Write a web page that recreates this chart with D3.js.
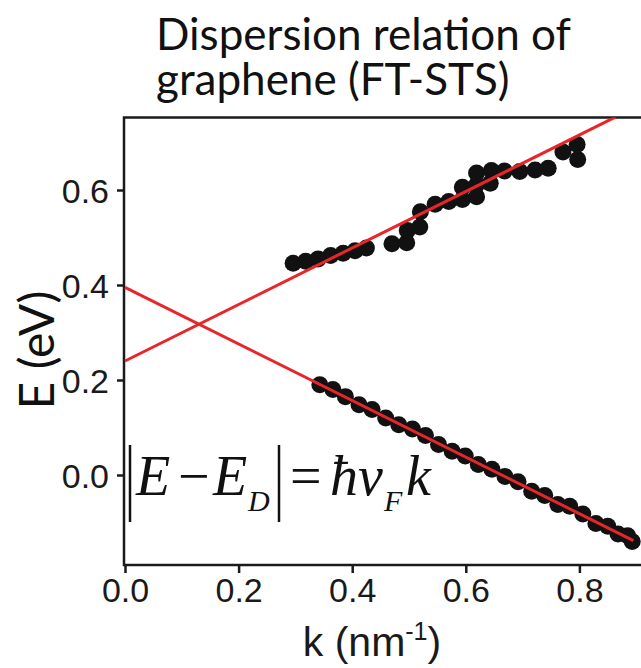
<!DOCTYPE html>
<html>
<head>
<meta charset="utf-8">
<script src="https://cdn.jsdelivr.net/npm/d3@7"></script>
<style>
  body { margin: 0; background: #fff; }
</style>
</head>
<body>
<div id="chart"></div>
<script>
// measured points, upper (conduction) branch
const upperK = [0.296, 0.318, 0.340, 0.362, 0.384, 0.405, 0.425,
                0.470, 0.496, 0.497, 0.519, 0.520, 0.546, 0.570, 0.594, 0.594,
                0.619, 0.619, 0.619, 0.643, 0.645, 0.668, 0.695, 0.722, 0.745,
                0.771, 0.796, 0.797];
const upperE = [0.446, 0.450, 0.455, 0.462, 0.467, 0.472, 0.478,
                0.487, 0.489, 0.515, 0.522, 0.554, 0.570, 0.576, 0.580, 0.606,
                0.586, 0.611, 0.636, 0.614, 0.641, 0.640, 0.639, 0.642, 0.646,
                0.680, 0.696, 0.664];

// measured points, lower (valence) branch
const lowerK = [0.343, 0.366, 0.388, 0.412, 0.435, 0.459, 0.482, 0.506, 0.529,
                0.552, 0.576, 0.599, 0.622, 0.646, 0.669, 0.692, 0.716, 0.739,
                0.762, 0.783, 0.806, 0.829, 0.850, 0.868, 0.885, 0.893];
const lowerE = [0.190, 0.180, 0.165, 0.148, 0.138, 0.120, 0.106, 0.097, 0.083,
                0.064, 0.050, 0.040, 0.022, 0.012, -0.003, -0.014, -0.034, -0.043,
                -0.062, -0.066, -0.082, -0.102, -0.108, -0.124, -0.128, -0.140];

// linear fits (end points)
const fitUpperK = [0, 0.864];
const fitUpperE = [0.240, 0.754];
const fitLowerK = [0, 0.895];
const fitLowerE = [0.395, -0.138];

const xTicks = [0, 0.2, 0.4, 0.6, 0.8];
const yTicks = [0, 0.2, 0.4, 0.6];

// chart size
const W = 641, H = 668;
const plot = {left: 124, top: 117.5, right: 660, bottom: 565};

const svg = d3.select("#chart")
    .append("svg")
    .attr("width", W)
    .attr("height", H)
    .style("font-family", "'Liberation Sans', Arial, sans-serif");

const xScale = d3.scaleLinear().domain([0, 0.9]).range([125, 636.2]);
const yScale = d3.scaleLinear().domain([0, 0.6]).range([475, 190]);

// title, two lines left aligned
const title = svg.append("text")
    .style("font-family", "Lato, 'Open Sans', sans-serif")
    .style("font-size", "44px")
    .attr("fill", "#111");
title.append("tspan").attr("x", 156).attr("y", 50).text("Dispersion relation of");
title.append("tspan").attr("x", 156).attr("y", 95).text("graphene (FT-STS)");

svg.append("defs").append("clipPath")
    .attr("id", "plotClip")
    .append("rect")
    .attr("x", plot.left).attr("y", plot.top)
    .attr("width", plot.right - plot.left)
    .attr("height", plot.bottom - plot.top);

// frame
svg.append("rect")
    .attr("x", plot.left).attr("y", plot.top)
    .attr("width", plot.right - plot.left)
    .attr("height", plot.bottom - plot.top)
    .attr("fill", "none")
    .attr("stroke", "#1a1a1a")
    .attr("stroke-width", 2.5);

// axes
const xAxis = svg.append("g")
    .attr("transform", `translate(0, ${plot.bottom})`)
    .call(d3.axisBottom(xScale).tickValues(xTicks).tickFormat(d3.format(".1f"))
        .tickSize(8).tickPadding(5));
const yAxis = svg.append("g")
    .attr("transform", `translate(${plot.left}, 0)`)
    .call(d3.axisLeft(yScale).tickValues(yTicks).tickFormat(d3.format(".1f"))
        .tickSize(7).tickPadding(8));

[xAxis, yAxis].forEach(ax => {
    ax.select(".domain").remove();
    ax.selectAll(".tick line").attr("stroke", "#1a1a1a").attr("stroke-width", 2.5);
    ax.selectAll(".tick text")
        .attr("fill", "#1a1a1a")
        .style("font-family", "'Liberation Sans', Arial, sans-serif")
        .style("font-size", "34px");
});
yAxis.selectAll(".tick text").attr("dy", "0.36em");

// axis labels
svg.append("text")
    .attr("transform", "translate(54, 350) rotate(-90)")
    .attr("text-anchor", "middle")
    .style("font-family", "Lato, 'Open Sans', sans-serif")
    .style("font-size", "48px")
    .attr("fill", "#111")
    .text("E (eV)");

const xLab = svg.append("text")
    .attr("x", 372).attr("y", 656)
    .attr("text-anchor", "middle")
    .style("font-size", "41px")
    .attr("fill", "#1a1a1a");
xLab.append("tspan").text("k (nm");
xLab.append("tspan").attr("dy", -16).style("font-size", "25px").text("-1");
xLab.append("tspan").attr("dy", 16).text(")");

const g = svg.append("g").attr("clip-path", "url(#plotClip)");

// data points
const upperPts = upperK.map((k, i) => [k, upperE[i]]);
const lowerPts = lowerK.map((k, i) => [k, lowerE[i]]);

g.selectAll(".dot")
    .data(upperPts.concat(lowerPts))
    .enter()
    .append("circle")
        .attr("cx", d => xScale(d[0]))
        .attr("cy", d => yScale(d[1]))
        .attr("r", 8.5)
        .attr("fill", "#111");

// fit lines
const line = d3.line().x(d => xScale(d[0])).y(d => yScale(d[1]));
[[fitUpperK, fitUpperE], [fitLowerK, fitLowerE]].forEach(([ks, es]) => {
    g.append("path")
        .datum(ks.map((k, i) => [k, es[i]]))
        .attr("d", line)
        .attr("fill", "none")
        .attr("stroke", "#e8262a")
        .attr("stroke-width", 3);
});

// formula |E - E_D| = hbar v_F k
const f = svg.append("g").style("font-family", "'Liberation Serif', 'Times New Roman', serif");
f.append("line").attr("x1", 130).attr("x2", 130).attr("y1", 445).attr("y2", 522)
    .attr("stroke", "#111").attr("stroke-width", 2.5);
f.append("line").attr("x1", 279).attr("x2", 279).attr("y1", 445).attr("y2", 522)
    .attr("stroke", "#111").attr("stroke-width", 2.5);
const ft = f.append("text").attr("y", 495).attr("fill", "#111").style("font-size", "56px");
ft.append("tspan").attr("x", 136).style("font-style", "italic").text("E");
ft.append("tspan").attr("x", 178).text("\u2212");
ft.append("tspan").attr("x", 213).style("font-style", "italic").text("E");
ft.append("tspan").attr("x", 248).attr("dy", 16).style("font-style", "italic").style("font-size", "30px").text("D");
ft.append("tspan").attr("x", 290).attr("dy", -16).text("=");
ft.append("tspan").attr("x", 330).style("font-style", "italic").text("\u0127v");
ft.append("tspan").attr("x", 384).attr("dy", 16).style("font-style", "italic").style("font-size", "30px").text("F");
ft.append("tspan").attr("x", 406).attr("dy", -16).style("font-style", "italic").text("k");
</script>
</body>
</html>
